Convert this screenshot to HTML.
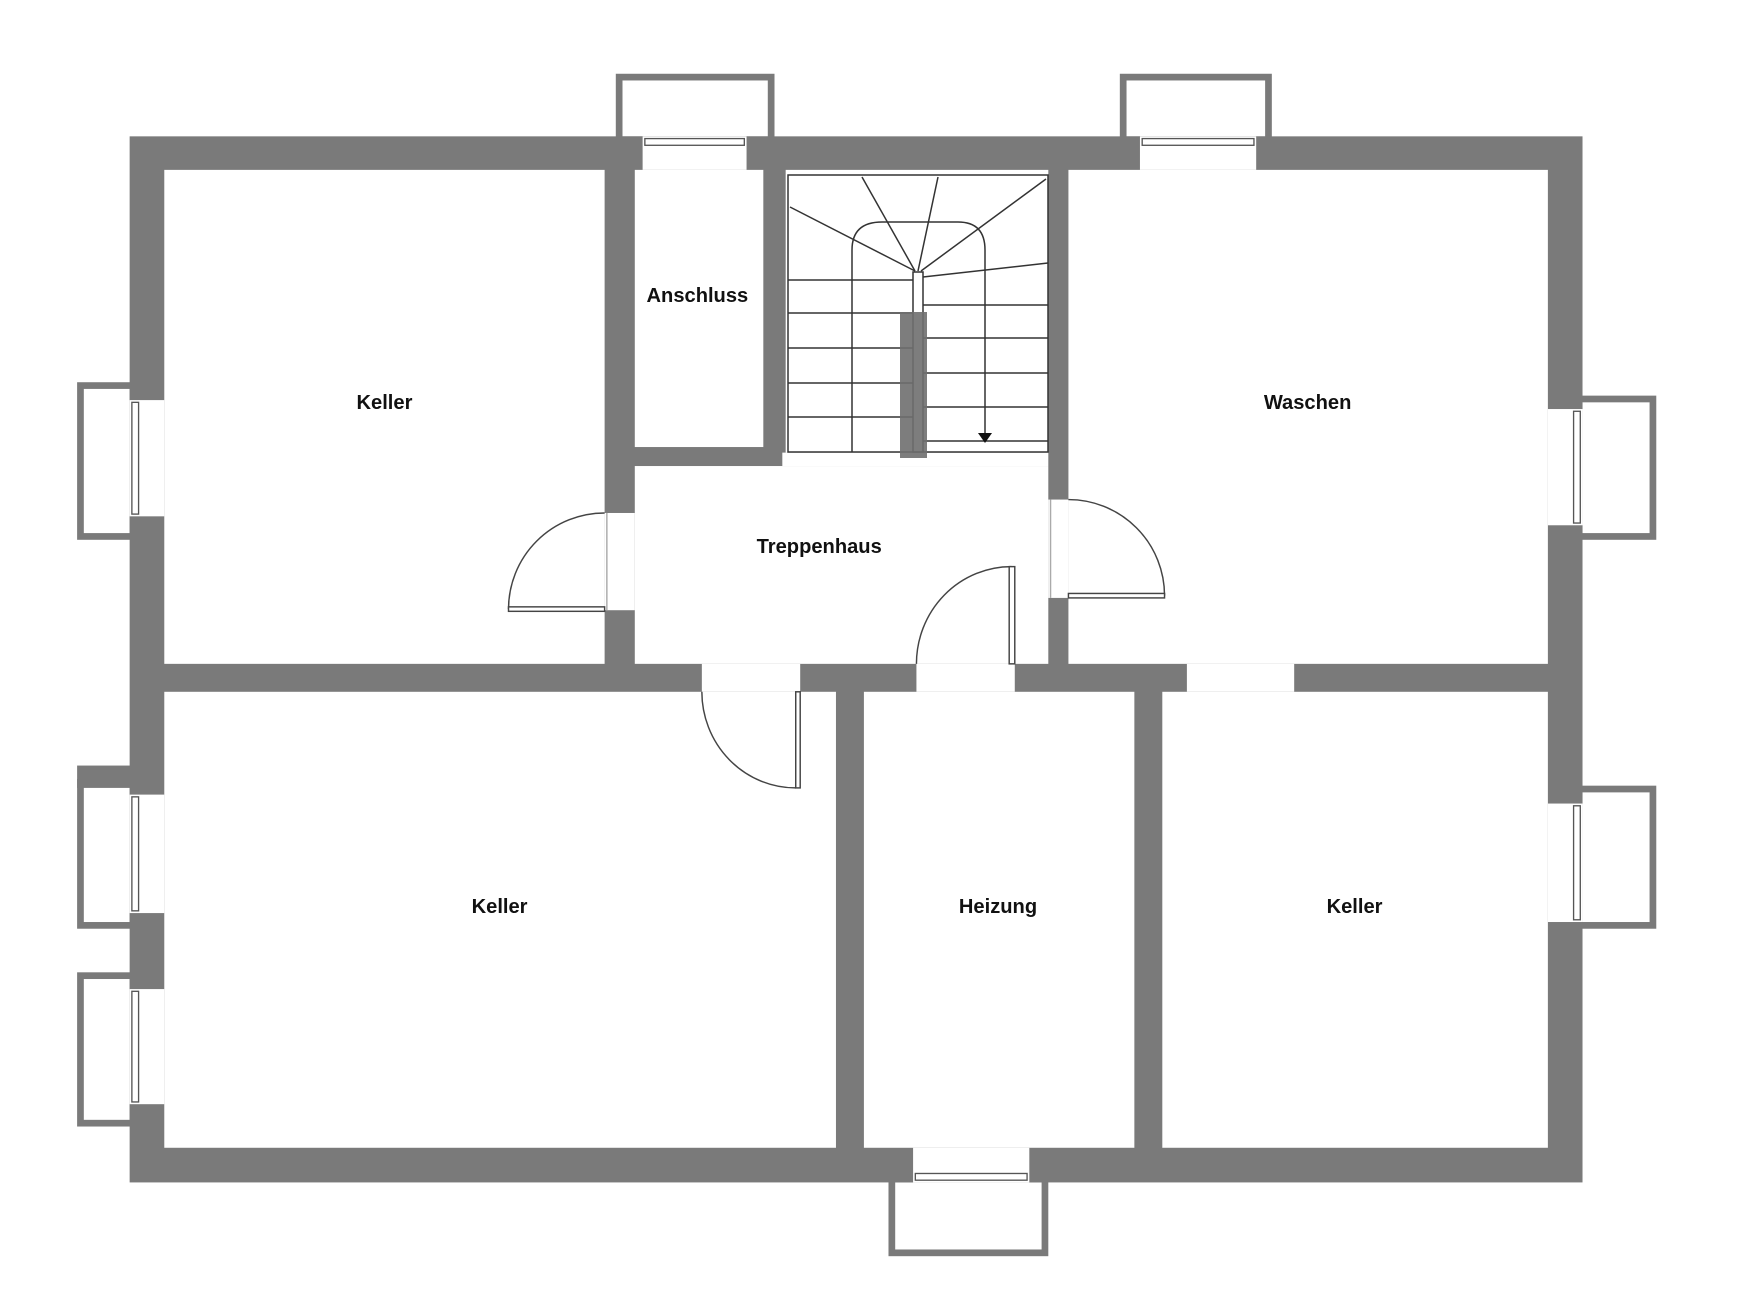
<!DOCTYPE html>
<html><head><meta charset="utf-8"><style>
html,body{margin:0;padding:0;background:#fff;width:1752px;height:1292px;overflow:hidden}
svg{display:block}
text{font-family:"Liberation Sans",sans-serif;font-weight:bold;font-size:18px;fill:#111;text-anchor:middle}
</style></head><body>
<svg width="1752" height="1292" viewBox="0 0 1752 1292" xmlns="http://www.w3.org/2000/svg">
<rect width="1752" height="1292" fill="#fff"/>
<g transform="scale(1.1176)">
 <g fill="none" stroke="#7a7a7a" stroke-width="6">
  <rect x="554" y="69" width="136" height="56"/>
  <rect x="1005" y="69" width="130" height="56"/>
  <rect x="72" y="345" width="47" height="135"/>
  <rect x="72" y="700" width="47" height="128"/>
  <rect x="72" y="873" width="47" height="132"/>
  <rect x="1413" y="357" width="66" height="123"/>
  <rect x="1413" y="706" width="66" height="122"/>
  <rect x="798" y="1055" width="137" height="66"/>
 </g>
 <rect x="69" y="685" width="50" height="20" fill="#7a7a7a"/>
 <rect x="116" y="122" width="1300" height="936" fill="#7a7a7a"/>
 <g fill="#fff">
  <rect x="147" y="152" width="394" height="442"/>
  <rect x="568" y="152" width="115" height="248"/>
  <rect x="703" y="152" width="235" height="253"/>
  <rect x="568" y="417" width="370" height="177"/>
  <rect x="700" y="405" width="238" height="12"/>
  <rect x="956" y="152" width="429" height="442"/>
  <rect x="147" y="619" width="601" height="408"/>
  <rect x="773" y="619" width="242" height="408"/>
  <rect x="1040" y="619" width="345" height="408"/>
  <rect x="628" y="594" width="88" height="25"/>
  <rect x="820" y="594" width="88" height="25"/>
  <rect x="1062" y="594" width="96" height="25"/>
  <rect x="541" y="459" width="27" height="87"/>
  <rect x="938" y="447" width="18" height="88"/>
  <rect x="575" y="122" width="93" height="30"/>
  <rect x="1020" y="122" width="104" height="30"/>
  <rect x="116" y="358" width="31" height="104"/>
  <rect x="116" y="711" width="31" height="106"/>
  <rect x="116" y="885" width="31" height="103"/>
  <rect x="1385" y="366" width="31" height="104"/>
  <rect x="1385" y="719" width="31" height="106"/>
  <rect x="817" y="1027" width="104" height="31"/>
 </g>
 <g fill="#fff" stroke="#555" stroke-width="1.2">
  <rect x="577" y="124" width="89" height="6"/>
  <rect x="1022" y="124" width="100" height="6"/>
  <rect x="118" y="360" width="6" height="100"/>
  <rect x="118" y="713" width="6" height="102"/>
  <rect x="118" y="887" width="6" height="99"/>
  <rect x="1408" y="368" width="6" height="100"/>
  <rect x="1408" y="721" width="6" height="102"/>
  <rect x="819" y="1050" width="100" height="6"/>
 </g>
 <g fill="none" stroke="#444" stroke-width="1.3">
  <path d="M628 619 A84 86 0 0 0 712 705"/>
  <rect x="712" y="619" width="4" height="86" fill="#fff"/>
  <path d="M820 594 A85 87 0 0 1 905 507"/>
  <rect x="903" y="507" width="5" height="87" fill="#fff"/>
  <path d="M541 459 A86 86 0 0 0 455 545"/>
  <rect x="455" y="543" width="86" height="4" fill="#fff"/>
  <path d="M956 447 A86 86 0 0 1 1042 533"/>
  <rect x="956" y="531" width="86" height="4" fill="#fff"/>
  <line x1="543" y1="459" x2="543" y2="546" stroke="#aaa"/>
  <line x1="940" y1="447" x2="940" y2="535" stroke="#aaa"/>
 </g>
 <text x="344" y="366">Keller</text>
 <text x="624" y="270">Anschluss</text>
 <text x="1170" y="366">Waschen</text>
 <text x="733" y="495">Treppenhaus</text>
 <text x="447" y="817">Keller</text>
 <text x="893" y="817">Heizung</text>
 <text x="1212" y="817">Keller</text>
</g>
<g fill="none" stroke="#333" stroke-width="1.5">
 <rect x="788" y="175" width="260" height="277"/>
 <line x1="790" y1="207" x2="915" y2="271"/>
 <line x1="862" y1="177" x2="915" y2="271"/>
 <line x1="938" y1="177" x2="918" y2="271"/>
 <line x1="1046" y1="179" x2="921" y2="271"/>
 <line x1="923" y1="277" x2="1048" y2="263"/>
 <path d="M852 452 V250 Q852 222 882 222 H958 Q985 222 985 250 V437"/>
 <line x1="788" y1="280" x2="913" y2="280"/>
 <line x1="788" y1="313" x2="913" y2="313"/>
 <line x1="788" y1="348" x2="913" y2="348"/>
 <line x1="788" y1="383" x2="913" y2="383"/>
 <line x1="788" y1="417" x2="913" y2="417"/>
 <line x1="923" y1="305" x2="1048" y2="305"/>
 <line x1="923" y1="338" x2="1048" y2="338"/>
 <line x1="923" y1="373" x2="1048" y2="373"/>
 <line x1="923" y1="407" x2="1048" y2="407"/>
 <line x1="923" y1="441" x2="1048" y2="441"/>
 <rect x="913" y="272" width="10" height="180"/>
</g>
<rect x="900" y="312" width="27" height="146" fill="#6f6f6f" opacity="0.9"/>
<polygon points="978,433 992,433 985,443" fill="#111"/>
</svg>
</body></html>
